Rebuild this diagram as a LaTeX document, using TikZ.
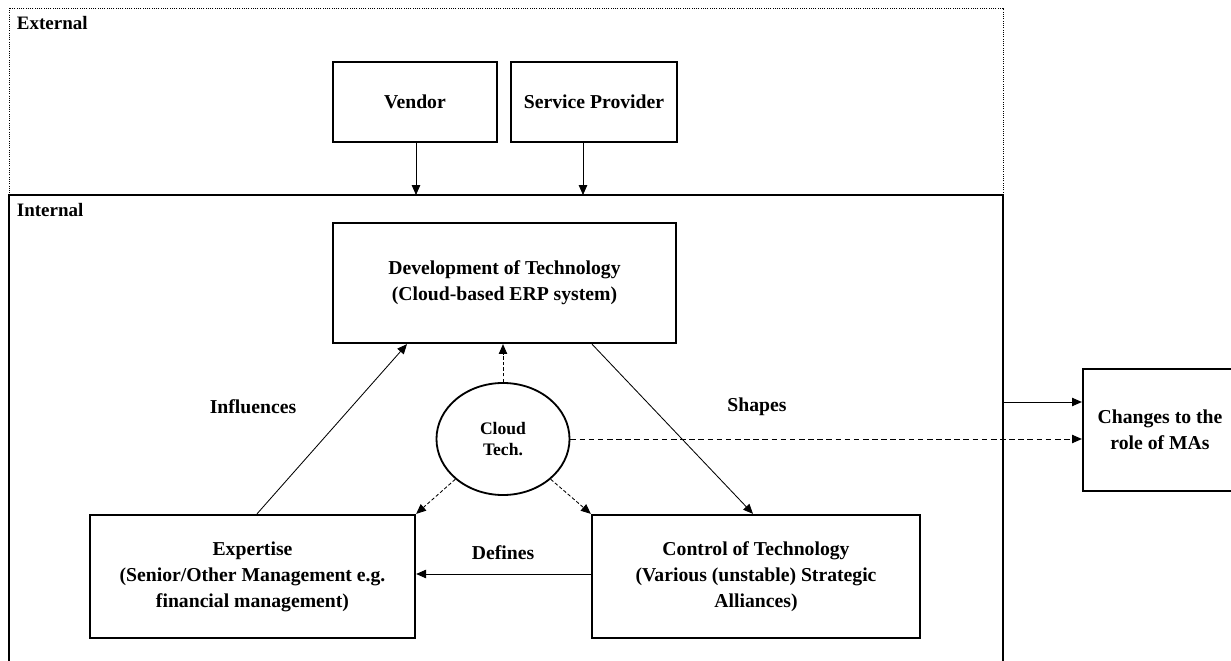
\documentclass[tikz,border=0pt]{standalone}
\usepackage{fontspec}
\setmainfont{Liberation Serif}
\usetikzlibrary{arrows.meta,shapes.geometric}
\tikzset{
	box/.style={draw,line width=1.6pt,align=center,inner sep=2pt},
	link/.style={-{Triangle[length=7pt,width=6pt]},line width=0.6pt},
	hint/.style={link,dash pattern=on 2.5pt off 1.5pt},
	region/.style={anchor=base west,font=\bfseries\fontsize{13.5}{15}\selectfont},
}

\begin{document}
\begin{tikzpicture}[x=0.025cm,y=-0.025cm,every node/.style={font=\bfseries\fontsize{14}{18.5}\selectfont}]
		\useasboundingbox (0,0) rectangle (1231,661);
		\draw[densely dotted,line width=0.6pt] (9,8) rectangle (1003,195);
		\draw[line width=1pt] (9,670) -- (9,195) coordinate (intop) -- (1003,195) -- (1003,670);
		\coordinate (inright) at (1003,402);
		\node[region] (ext) at (12,30) {External};
		\node[region] (int) at (12,217) {Internal};
		\node[box,minimum width=4.1cm,minimum height=2cm] (vendor) at (415,102) {Vendor};
		\node[box,minimum width=4.15cm,minimum height=2cm] (provider) at (594,102) {Service Provider};
		\node[box,minimum width=8.575cm,minimum height=3cm] (dev) at (504.5,283) {Development of Technology\\(Cloud-based ERP system)};
		\node[draw,ellipse,line width=1.3pt,align=center,inner sep=0pt,minimum width=3.325cm,minimum height=2.8cm,font=\bfseries\fontsize{12.5}{15}\selectfont] (cloud) at (503,439) {Cloud\\Tech.};
		\node[box,minimum width=8.125cm,minimum height=3.075cm] (exp) at (252.5,576.5) {Expertise\\(Senior/Other Management e.g.\\financial management)};
		\node[box,minimum width=8.2cm,minimum height=3.075cm] (ctl) at (756,576.5) {Control of Technology\\(Various (unstable) Strategic\\Alliances)};
		\node[box,minimum width=3.85cm,minimum height=3.05cm] (chg) at (1160,430) {Changes to the\\role of MAs};
		\node (infl) at (253,407) {Influences};
		\node (shp) at (757,407) {Shapes};
		\node (dfn) at (503,553) {Defines};
		\draw[link] (vendor.south -| 416,0) -- (intop -| 416,0);
		\draw[link] (provider.south -| 583,0) -- (intop -| 583,0);
		\draw[link] (exp.north -| 257,0) -- (dev.south -| 407,0);
		\draw[link] (dev.south -| 592,0) -- (ctl.north -| 753,0);
		\draw[link] (ctl.west |- 0,574) -- (exp.east |- 0,574);
		\draw[hint] (cloud.north) -- (dev.south -| cloud.north);
		\draw[hint] (cloud.south west) -- (exp.north east);
		\draw[hint] (cloud.south east) -- (ctl.north west);
		\draw[link,dash pattern=on 4pt off 2.5pt] (cloud.east) -- (chg.west |- cloud.east);
		\draw[link] (inright) -- (chg.west |- inright);
	\end{tikzpicture}
\end{document}
